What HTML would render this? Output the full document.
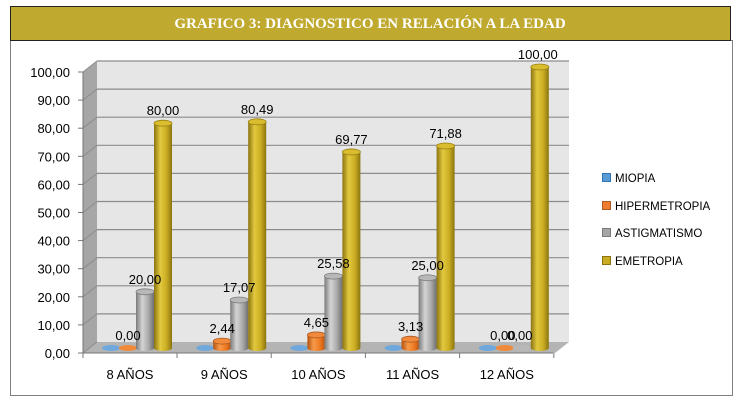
<!DOCTYPE html>
<html><head><meta charset="utf-8"><style>
body{margin:0;background:#fff;width:740px;height:402px;overflow:hidden}
svg{display:block}
text{font-family:"Liberation Sans",sans-serif}
</style></head><body>
<svg id="s" width="740" height="402" xmlns="http://www.w3.org/2000/svg">
<defs>
<linearGradient id="gG" x1="0" x2="1"><stop offset="0" stop-color="#8a7410"/><stop offset="0.35" stop-color="#e3c93f"/><stop offset="0.7" stop-color="#c9ac22"/><stop offset="1" stop-color="#8a7410"/></linearGradient>
<linearGradient id="gA" x1="0" x2="1"><stop offset="0" stop-color="#7a7a7a"/><stop offset="0.35" stop-color="#d4d4d4"/><stop offset="0.7" stop-color="#a9a9a9"/><stop offset="1" stop-color="#6f6f6f"/></linearGradient>
<linearGradient id="gO" x1="0" x2="1"><stop offset="0" stop-color="#b5520f"/><stop offset="0.35" stop-color="#f79a4a"/><stop offset="0.7" stop-color="#ee7a22"/><stop offset="1" stop-color="#b5520f"/></linearGradient>
<linearGradient id="gB" x1="0" x2="1"><stop offset="0" stop-color="#3a78b5"/><stop offset="0.5" stop-color="#6fa8dc"/><stop offset="1" stop-color="#3a78b5"/></linearGradient>
</defs>
<rect x="10.5" y="40.5" width="722" height="355" fill="#fff" stroke="#7f7f7f"/>
<rect x="10.5" y="6.5" width="720" height="34" fill="#bfa92f" stroke="#222"/>
<text x="370" y="28" text-anchor="middle" fill="#fff" font-size="15" font-weight="bold" style="font-family:'Liberation Serif',serif">GRAFICO 3: DIAGNOSTICO EN RELACIÓN A LA EDAD</text>
<polygon points="97,61 569,61 569,342 97,342" fill="#e6e6e6"/>
<polygon points="83,72 97,61 97,342 83,353" fill="#a6a6a6"/>
<polygon points="83,353 97,342 569,342 555,353" fill="#b4b4b4"/>
<g id="grid"></g>
<g id="bars"></g>
<g id="lbl" font-size="13" fill="#000"></g>
<g font-size="11.5" fill="#000">
<rect x="602.5" y="173.5" width="8" height="8" fill="#5b9bd5" stroke="#2e75b6"/><text x="615" y="182">MIOPIA</text>
<rect x="602.5" y="201.5" width="8" height="8" fill="#ed7d31" stroke="#ae5a21"/><text x="615" y="210">HIPERMETROPIA</text>
<rect x="602.5" y="228.5" width="8" height="8" fill="#a5a5a5" stroke="#7b7b7b"/><text x="615" y="237">ASTIGMATISMO</text>
<rect x="602.5" y="256.5" width="8" height="8" fill="#c9ac22" stroke="#8a7410"/><text x="615" y="265">EMETROPIA</text>
</g>
</svg>
<script>
var NS="http://www.w3.org/2000/svg";
function el(p,t,a,txt){var e=document.createElementNS(NS,t);for(var k in a)e.setAttribute(k,a[k]);if(txt!=null)e.textContent=txt;p.appendChild(e);return e;}
var g=document.getElementById('grid'),b=document.getElementById('bars'),l=document.getElementById('lbl');
for(var i=0;i<=10;i++){
 var yb=342-i*28.1, yf=353-i*28.1;
 if(i>0) el(g,'line',{x1:97,y1:yb,x2:569,y2:yb,stroke:'#8c8c8c','stroke-width':1.2});
 el(g,'line',{x1:97,y1:yb,x2:83,y2:yf,stroke:'#8c8c8c'});
 el(g,'line',{x1:78,y1:yf,x2:83,y2:yf,stroke:'#777'});
 el(l,'text',{x:70,y:yf+5,'text-anchor':'end'},(i*10).toFixed(2).replace('.',','));
}
el(g,'line',{x1:83,y1:72,x2:83,y2:353,stroke:'#777'});
el(g,'line',{x1:83,y1:353,x2:553,y2:353,stroke:'#777'});
var cats=['8 AÑOS','9 AÑOS','10 AÑOS','11 AÑOS','12 AÑOS'];
var data=[[0,0,20,80],[0,2.44,17.07,80.49],[0,4.65,25.58,69.77],[0,3.13,25,71.88],[0,0,0,100]];
var show=[[0,1,1,1],[0,1,1,1],[0,1,1,1],[0,1,1,1],[0,1,1,1]];
var offs=[-19,-2,15,33],fills=['url(#gB)','url(#gO)','url(#gA)','url(#gG)'],tops=['#6fa8dc','#f08a3a','#b8b8b8','#d9bd2e'],strokes=['#2e75b6','#ae5a21','#7b7b7b','#9a8010'];
for(var c=0;c<5;c++){
 var cx=130+c*94.2;
 el(g,'line',{x1:cx+47,y1:353,x2:cx+47,y2:358,stroke:'#777'});
 if(c==0) el(g,'line',{x1:83,y1:353,x2:83,y2:358,stroke:'#777'});
 el(l,'text',{x:cx,y:379,'text-anchor':'middle'},cats[c]);
 for(var s=0;s<4;s++){
  var v=data[c][s],x=cx+offs[s],w=18,yb=348,yt=yb-v*2.81;
  if(v>0){
   el(b,'rect',{x:x-w/2,y:yt,width:w,height:yb-yt,fill:fills[s]});
   el(b,'ellipse',{cx:x,cy:yb,rx:w/2,ry:3,fill:fills[s]});
   el(b,'ellipse',{cx:x,cy:yt,rx:w/2,ry:3,fill:tops[s],stroke:strokes[s],'stroke-width':0.8});
  } else {
   el(b,'ellipse',{cx:x,cy:yb,rx:w/2,ry:3,fill:tops[s]});
  }
  if(show[c][s]||(c==4&&s>0&&s<3)){
   el(l,'text',{x:x+(c==4?-2:0),y:yt-8,'text-anchor':'middle'},v.toFixed(2).replace('.',','));
  }
 }
}
</script>
</body></html>
